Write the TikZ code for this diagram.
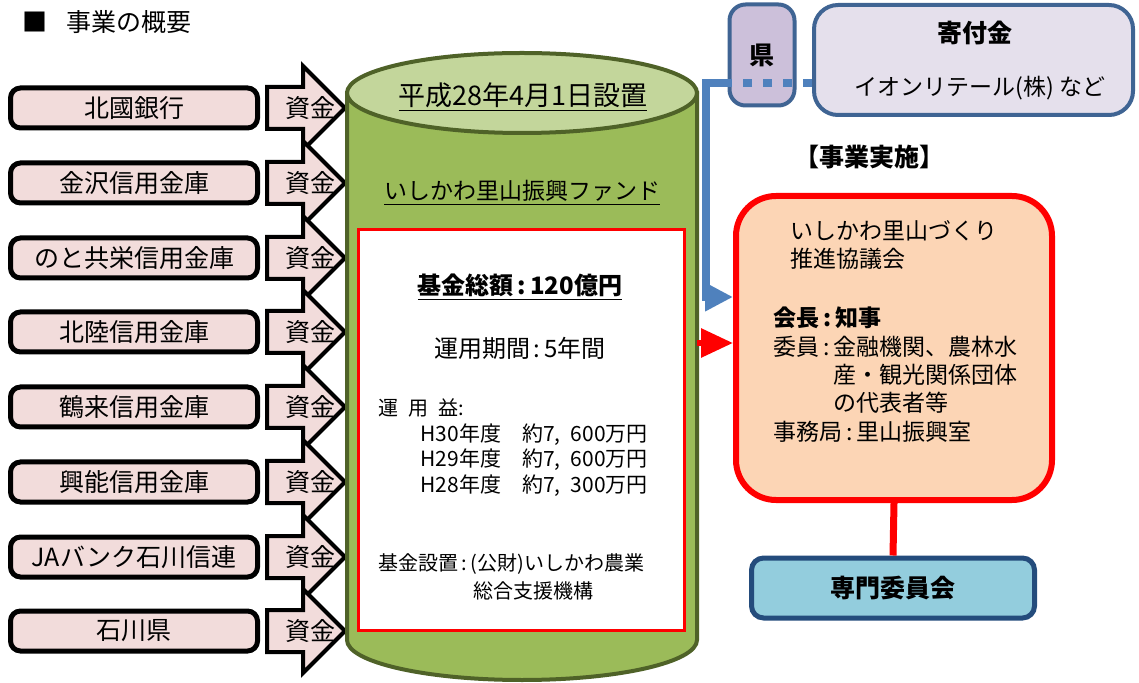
\documentclass[tikz,border=0pt]{standalone}
\usepackage{fontspec}
\setmainfont{Noto Sans CJK JP}
\usepackage{tikz}
\usepackage{xcolor}
\usetikzlibrary{shapes.arrows}
\usetikzlibrary{arrows.meta}

\definecolor{bankpink}{HTML}{F2DCDB}
\definecolor{fundgreen}{HTML}{9BBB59}
\definecolor{fundtop}{HTML}{C3D69B}
\definecolor{fundline}{HTML}{4F6228}
\definecolor{kenfill}{HTML}{CCC0DA}
\definecolor{giftfill}{HTML}{E5E0EC}
\definecolor{giftline}{HTML}{3F6493}
\definecolor{councilfill}{HTML}{FCD5B5}
\definecolor{commfill}{HTML}{93CDDD}
\definecolor{commline}{HTML}{244C7C}
\definecolor{flowblue}{HTML}{4F81BD}

\tikzset{
  bankbox/.style={draw, line width=2.5pt, fill=bankpink, rounded corners=5pt,
    minimum width=123.5pt, minimum height=20pt, inner sep=0pt,
    font=\fontsize{12.5}{14}\selectfont},
  fundarrow/.style={single arrow, draw, line width=2pt, fill=bankpink,
    single arrow head extend=10.5pt, minimum height=39pt, inner xsep=0pt,
    inner ysep=4pt, text height=9pt, text depth=2pt, anchor=tail,
    label={[inner sep=0pt, anchor=west, xshift=10pt,
      font=\fontsize{12.5}{14}\selectfont]tail:資金}},
  smalltext/.style={anchor=west, inner sep=0pt, font=\fontsize{10}{12}\selectfont},
  yieldtext/.style={anchor=west, inner sep=0pt, font=\fontsize{10.5}{12}\selectfont},
  midtext/.style={inner sep=0pt, font=\fontsize{11.5}{14}\selectfont},
  bluelink/.style={flowblue, line width=4pt},
}

\begin{document}
\begin{tikzpicture}[x=0.5pt, y=0.5pt]
    \useasboundingbox (0, 0) rectangle (1139, -683);
    \path (22, -22) node [anchor=west, inner sep=0pt,
	font=\fontsize{12.5}{14}\selectfont] (title) {■\hspace{9.5pt}事業の概要};

    % banks
    \path (134, -108) node [bankbox] (b1) {北國銀行};
    \path (265, -108) node [fundarrow] (a1) {};
    \path (134, -183) node [bankbox] (b2) {金沢信用金庫};
    \path (265, -183) node [fundarrow] (a2) {};
    \path (134, -258) node [bankbox] (b3) {のと共栄信用金庫};
    \path (265, -258) node [fundarrow] (a3) {};
    \path (134, -332) node [bankbox] (b4) {北陸信用金庫};
    \path (265, -332) node [fundarrow] (a4) {};
    \path (134, -407) node [bankbox] (b5) {鶴来信用金庫};
    \path (265, -407) node [fundarrow] (a5) {};
    \path (134, -482) node [bankbox] (b6) {興能信用金庫};
    \path (265, -482) node [fundarrow] (a6) {};
    \path (134, -557) node [bankbox] (b7) {JAバンク石川信連};
    \path (265, -557) node [fundarrow] (a7) {};
    \path (134, -631) node [bankbox] (b8) {石川県};
    \path (265, -631) node [fundarrow] (a8) {};

    % fund cylinder
    \filldraw [fill=fundgreen, draw=fundline, line width=2pt]
	(347, -93) -- (347, -640)
	arc [start angle=180, end angle=360, x radius=87.5pt, y radius=20pt]
	-- (697, -93) -- cycle;
    \filldraw [fill=fundtop, draw=fundline, line width=2pt]
	(522, -93) ellipse [x radius=87.5pt, y radius=20pt];
    \path (523, -97) node [inner sep=0pt, font=\fontsize{13.5}{14}\selectfont]
	(since) {\underline{平成28年4月1日設置}};
    \path (522, -193) node [midtext] (fund) {\underline{いしかわ里山振興ファンド}};
    \path (521, -430) node [draw=red, fill=white, line width=1.5pt,
	minimum width=163pt, minimum height=200pt] (panel) {};
    \path (520, -287) node [inner sep=0pt, font=\bfseries\fontsize{12}{14}\selectfont]
	(total) {\underline{基金総額\,:\,120億円}};
    \path (520, -348) node [inner sep=0pt, font=\fontsize{12}{14}\selectfont]
	(term) {運用期間\,:\,5年間};
    \path (378, -408) node [smalltext] (gain) {運\enspace 用\enspace 益:};
    \path (420, -435) node [yieldtext] (g30) {H30年度\quad 約7,\enspace 600万円};
    \path (420, -460) node [yieldtext] (g29) {H29年度\quad 約7,\enspace 600万円};
    \path (420, -486) node [yieldtext] (g28) {H28年度\quad 約7,\enspace 300万円};
    \path (378, -564) node [smalltext] (org) {基金設置\,:\,(公財)いしかわ農業};
    \path (473, -591) node [smalltext] (org2) {総合支援機構};

    % donations
    \path (762, -55) node [draw=giftline, fill=kenfill, line width=2pt,
	rounded corners=8pt, minimum width=32.5pt, minimum height=50.5pt,
	font=\bfseries\fontsize{12.5}{14}\selectfont] (ken) {県};
    \path (973.5, -60) node [draw=giftline, fill=giftfill, line width=2pt,
	rounded corners=12pt, minimum width=159.5pt, minimum height=55pt] (gift) {};
    \path (975, -33) node [inner sep=0pt, font=\bfseries\fontsize{12.5}{14}\selectfont]
	(giftt) {寄付金};
    \path (980, -88) node [midtext] (gifts) {イオンリテール(株) など};

    % council
    \path (869, -157) node [inner sep=0pt, font=\bfseries\fontsize{12.5}{14}\selectfont]
	(impl) {【事業実施】};
    \path (894, -348) node [draw=red, fill=councilfill, line width=3pt,
	rounded corners=20pt, minimum width=158pt, minimum height=152pt] (council) {};
    \path (790, -245) node [midtext, anchor=west, align=left] (cname)
	{いしかわ里山づくり\\推進協議会};
    \path (773, -318) node [midtext, anchor=west, font=\bfseries\fontsize{11.5}{14}\selectfont]
	(chair) {会長\,:\,知事};
    \path (773, -375) node [midtext, anchor=west, align=left] (members)
	{委員\,:\,金融機関、農林水\\\phantom{委員\,:\,}産・観光関係団体\\\phantom{委員\,:\,}の代表者等};
    \path (773, -432) node [midtext, anchor=west] (office) {事務局\,:\,里山振興室};
    \path (893, -588) node [draw=commline, fill=commfill, line width=2.5pt,
	rounded corners=6pt, minimum width=141.5pt, minimum height=30pt,
	font=\bfseries\fontsize{12.5}{14}\selectfont] (comm) {専門委員会};
    \draw [red, line width=3.5pt] (council.south) -- (comm.north);

    % flows
    \coordinate (fundr) at (697, -343);
    \draw [red, line width=3pt, -{Triangle[length=16pt, width=14pt]}]
	(fundr) -- (fundr -| council.west);
    \coordinate (topbend) at (706, -83);
    \coordinate (lowbend) at (706, -297);
    \draw [bluelink, dash pattern=on 4.5pt off 5.5pt]
	(gift.west |- topbend) -- (ken.west |- topbend);
    \draw [bluelink, -{Triangle[length=14pt, width=13.5pt]}]
	(ken.west |- topbend) -- (topbend) -- (lowbend) -- (council.west |- lowbend);
\end{tikzpicture}
\end{document}
